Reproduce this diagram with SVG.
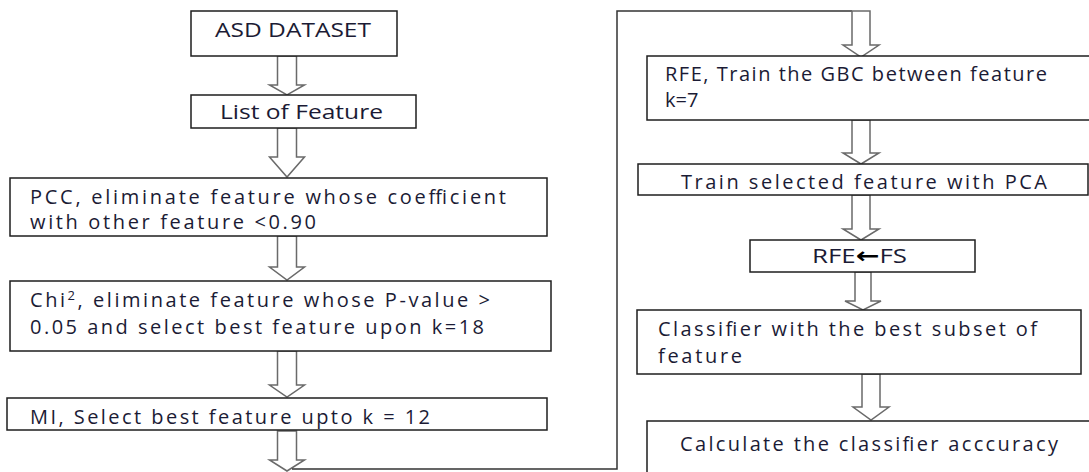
<svg xmlns="http://www.w3.org/2000/svg" width="1089" height="472" viewBox="0 0 1089 472">
<style>
.box{fill:#fff;stroke:#1e1e1e;stroke-width:1.5}
.arr{fill:#fff;stroke:#6a6a6a;stroke-width:1.5;stroke-linejoin:miter}
.con{fill:none;stroke:#333;stroke-width:1.5}
text{font-family:"Open Sans","Liberation Sans",sans-serif;font-size:20px;font-weight:500;fill:#1b1b35}
.ar{font-family:"DejaVu Sans",sans-serif;font-weight:bold;fill:#000;font-size:22px}
</style>
<rect width="1089" height="472" fill="#fff"/>
<g id="connectors">
<path class="arr" d="M277.5,56 V85 H269.5 L287,95 L304.5,85 H296.5 V56 Z"/>
<path class="arr" d="M277.5,128 V157 H269.5 L287,177 L304.5,157 H296.5 V128 Z"/>
<path class="arr" d="M277.5,236 V267 H269.5 L287,280 L304.5,267 H296.5 V236 Z"/>
<path class="arr" d="M277.5,351 V385 H269.5 L287,397 L304.5,385 H296.5 V351 Z"/>
<path class="arr" d="M277.5,431 V460 H269.5 L287,471 L304.5,460 H296.5 V431 Z"/>
<polyline class="con" points="292,469 617,469 617,11 852,11"/>
<path class="arr" d="M852,11 V45 H843 L861,57 L879,45 H870 V11 Z"/>
<path class="arr" d="M852,120 V153 H843 L861,164 L879,153 H870 V120 Z"/>
<path class="arr" d="M852,195 V229 H843 L861,240 L879,229 H870 V195 Z"/>
<path class="arr" d="M855,272 V301 H845 L863,310 L881,301 H871 V272 Z"/>
<path class="arr" d="M862,374 V407 H853 L871,420 L889,407 H880 V374 Z"/>
</g>
<g id="n1"><rect class="box" x="191" y="11" width="206" height="45"/><text x="215" y="37" textLength="156" lengthAdjust="spacingAndGlyphs">ASD DATASET</text></g>
<g id="n2"><rect class="box" x="191" y="95" width="225" height="33"/><text x="220" y="119" textLength="163" lengthAdjust="spacingAndGlyphs">List of Feature</text></g>
<g id="n3"><rect class="box" x="10" y="178" width="537" height="58"/><text x="30" y="204" textLength="476" lengthAdjust="spacing">PCC, eliminate feature whose coefficient</text><text x="30" y="229" textLength="286" lengthAdjust="spacing">with other feature &lt;0.90</text></g>
<g id="n4"><rect class="box" x="10" y="281" width="541" height="70"/><text x="30" y="307" textLength="460" lengthAdjust="spacing">Chi<tspan font-size="13" dy="-7">2</tspan><tspan dy="7">, eliminate feature whose P-value &gt;</tspan></text><text x="30" y="334" textLength="454" lengthAdjust="spacing">0.05 and select best feature upon k=18</text></g>
<g id="n5"><rect class="box" x="7" y="398" width="540" height="32"/><text x="30" y="424" textLength="400" lengthAdjust="spacing">MI, Select best feature upto k = 12</text></g>
<g id="n6"><rect class="box" x="647" y="56" width="450" height="64"/><text x="665" y="81" textLength="382" lengthAdjust="spacing">RFE, Train the GBC between feature</text><text x="665" y="107">k=7</text></g>
<g id="n7"><rect class="box" x="638" y="164" width="450" height="31"/><text x="681" y="189" textLength="366" lengthAdjust="spacing">Train selected feature with PCA</text></g>
<g id="n8"><rect class="box" x="750" y="240" width="225" height="32"/><text x="812" y="263" textLength="95" lengthAdjust="spacingAndGlyphs">RFE<tspan class="ar">←</tspan>FS</text></g>
<g id="n9"><rect class="box" x="637" y="310" width="444" height="64"/><text x="658" y="336" textLength="379" lengthAdjust="spacing">Classifier with the best subset of</text><text x="658" y="363" textLength="84" lengthAdjust="spacing">feature</text></g>
<g id="n10"><rect class="box" x="647" y="421" width="450" height="60"/><text x="680" y="451" textLength="378" lengthAdjust="spacing">Calculate the classifier acccuracy</text></g>
</svg>
